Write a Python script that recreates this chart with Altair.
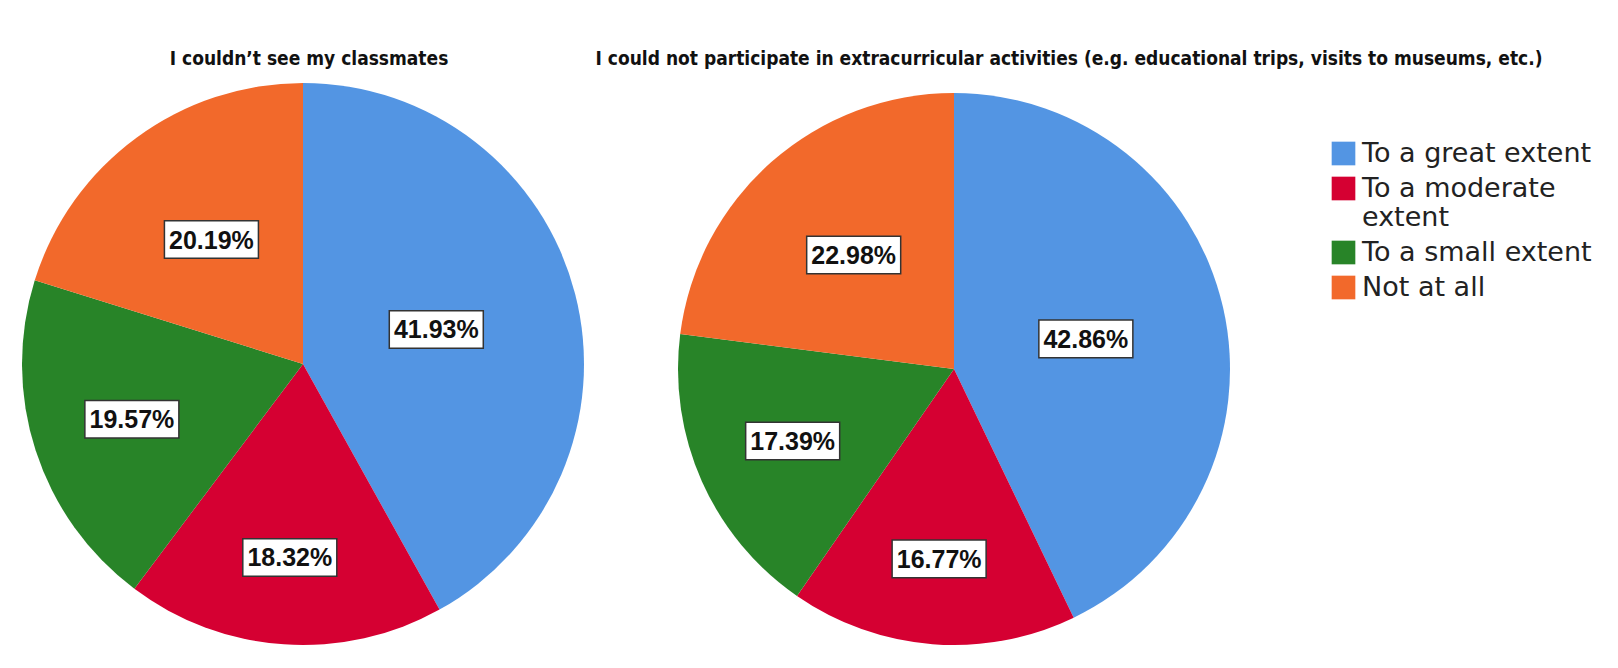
import math
import altair as alt
import pandas as pd

categories = ["To a great extent", "To a moderate extent", "To a small extent", "Not at all"]
colors = ["#5395E3", "#D50032", "#288428", "#F2692B"]
q1_values = [41.93, 18.32, 19.57, 20.19]
q2_values = [42.86, 16.77, 17.39, 22.98]
title1 = "I couldn\u2019t see my classmates"
title2 = "I could not participate in extracurricular activities (e.g. educational trips, visits to museums, etc.)"

# style: distance of each label from the pie centre, as a fraction of the radius
label_radius = [0.49, 0.69, 0.64, 0.55]


def panel_df(values):
    rows = []
    cum = 0.0
    total = sum(values)
    for i, (c, v) in enumerate(zip(categories, values)):
        a0 = 2 * math.pi * cum / total
        a1 = 2 * math.pi * (cum + v) / total
        mid = (a0 + a1) / 2
        rf = label_radius[i]
        rows.append({
            "category": c, "value": v, "order": i,
            "label": f"{v:.2f}%",
            "lx": rf * math.sin(mid), "ly": rf * math.cos(mid),
        })
        cum += v
    return pd.DataFrame(rows)


legend = alt.Legend(
    title=None, orient="none", legendX=1309, legendY=57,
    symbolType="square", symbolSize=560, symbolStrokeWidth=0,
    labelFont="DejaVu Sans", labelFontSize=27, labelColor="#222222",
    labelLimit=500, rowPadding=7, labelOffset=5,
    labelExpr="datum.label == 'To a moderate extent' ? ['To a moderate', 'extent'] : datum.label",
)


def pie(values, title, w, h, r, tdx):
    df = panel_df(values)
    ymax = (h / 2) / r
    xmax = (w / 2) / r
    base = alt.Chart(df)
    arc = base.mark_arc(outerRadius=r).encode(
        theta=alt.Theta("value:Q", stack=True),
        color=alt.Color("category:N", scale=alt.Scale(domain=categories, range=colors), legend=legend),
        order=alt.Order("order:Q"),
    )
    xs = alt.X("lx:Q", scale=alt.Scale(domain=[-xmax, xmax], nice=False, zero=False), axis=None)
    ys = alt.Y("ly:Q", scale=alt.Scale(domain=[-ymax, ymax], nice=False, zero=False), axis=None)
    box = base.mark_point(
        shape="M-1,-0.4L1,-0.4L1,0.4L-1,0.4Z", size=94 * 94, filled=True,
        fill="white", stroke="#333333", strokeWidth=1.5, opacity=1,
    ).encode(x=xs, y=ys)
    txt = base.mark_text(
        font="Liberation Sans", fontSize=25, fontWeight="bold", color="#111111",
        baseline="middle", align="center", dy=1,
    ).encode(x=xs, y=ys, text="label:N")
    return alt.layer(arc, box, txt).properties(
        width=w, height=h,
        title=alt.TitleParams(
            title, font="DejaVu Sans Condensed", fontSize=19, fontWeight="bold",
            color="#111111", anchor="middle", dx=tdx, offset=14,
        ),
    )


p1 = pie(q1_values, title1, 564, 562, 281, 6)
p2 = pie(q2_values, title2, 552, 572, 276, 115)

chart = alt.hconcat(p1, p2, spacing=93, bounds="flush").properties(
    padding={"left": 13, "top": 42, "right": 0, "bottom": 0}
).configure_view(stroke=None)

chart.save("out.html", embed_options={"renderer": "svg", "actions": False})
